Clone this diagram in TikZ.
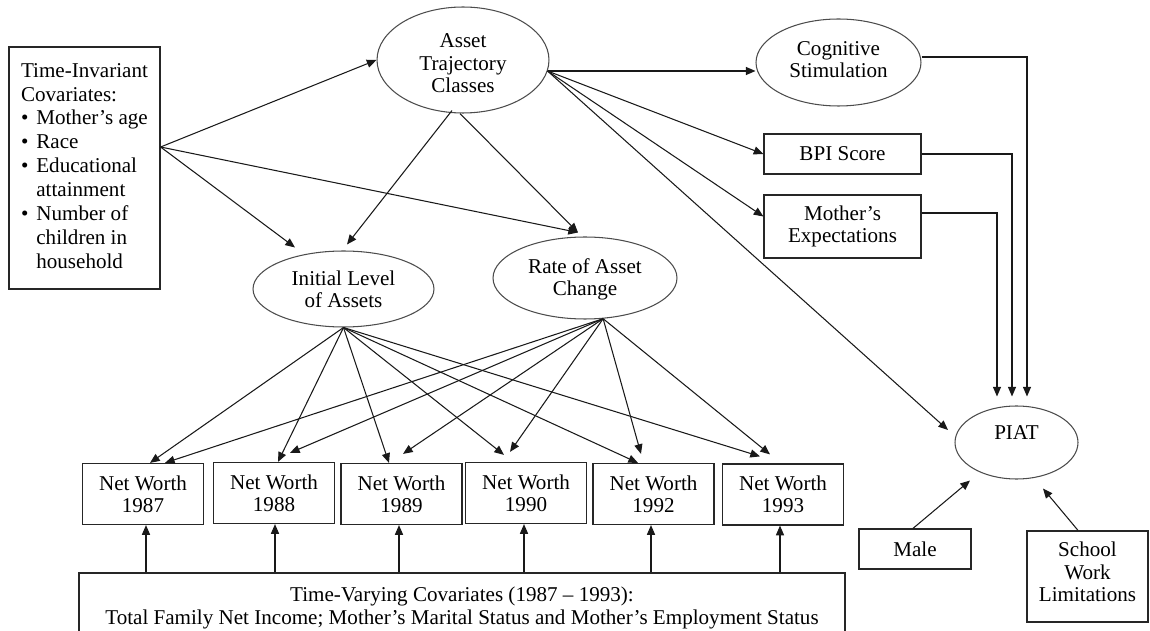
\documentclass[tikz,border=0pt]{standalone}
\usepackage{fontspec}
\setmainfont{Liberation Serif}
\usetikzlibrary{arrows.meta,calc,shapes.geometric}
\begin{document}
\begin{tikzpicture}[x=0.02cm,y=-0.02cm,
  font=\fontsize{12}{13}\selectfont,
  arr/.style={-{Triangle[length=5.5pt,width=4.6pt]},line width=0.6pt,draw=black!90},
  oval/.style={ellipse,draw=black!70,line width=0.6pt,inner sep=0pt,align=center},
  rbox/.style={rectangle,draw=black!85,line width=0.7pt,inner sep=0pt,align=center},
  nwbox/.style={rbox,minimum width=2.42cm,minimum height=1.22cm,font=\fontsize{12}{12.5}\selectfont},
]
\useasboundingbox (0,0) rectangle (1150,631);

% time-invariant covariates
\node[rbox,minimum width=3.02cm,minimum height=4.84cm,font=\fontsize{12}{13.6}\selectfont] (tic) at (84.5,168) {%
  \begin{tabular}{@{}l@{\hspace{4.5pt}}l@{}}
  \multicolumn{2}{@{}l@{}}{Time-Invariant}\\
  \multicolumn{2}{@{}l@{}}{Covariates:}\\
  \textbullet & Mother’s age\\
  \textbullet & Race\\
  \textbullet & Educational\\
              & attainment\\
  \textbullet & Number of\\
              & children in\\
              & household
  \end{tabular}};

% latent variables (text boxes sized so the lines sit as in the layout)
\node[oval,minimum width=3.44cm,minimum height=2.12cm,text height=37.4pt,text depth=0pt] (atc) at (463,60) {Asset\\Trajectory\\Classes};
\node[oval,minimum width=3.3cm,minimum height=1.74cm,text height=17.6pt,text depth=0pt] (cog) at (838.5,62.5) {Cognitive\\Stimulation};
\node[oval,minimum width=3.62cm,minimum height=1.52cm,text height=21.5pt,text depth=0pt] (ini) at (343.5,289) {Initial Level\\of Assets};
\node[oval,minimum width=3.68cm,minimum height=1.64cm,text height=20.4pt,text depth=0pt] (rate) at (585,278) {Rate of Asset\\Change};
\node[oval,minimum width=2.46cm,minimum height=1.46cm,text depth=11pt] (piat) at (1016.5,442.5) {PIAT};

% mediators and controls
\node[rbox,minimum width=3.14cm,minimum height=0.8cm] (bpi) at (842.5,154) {BPI Score};
\node[rbox,minimum width=3.14cm,minimum height=1.26cm] (me) at (842.5,226.5) {Mother’s\\Expectations};
\node[rbox,minimum width=2.24cm,minimum height=0.8cm] (male) at (915,549) {Male};
\node[rbox,minimum width=2.42cm,minimum height=1.82cm,text height=29pt,text depth=0pt] (swl) at (1087.5,576.5) {School\\Work\\Limitations};

% observed net worth
\node[nwbox] (nw87) at (143,494) {Net Worth\\1987};
\node[nwbox] (nw88) at (274,493) {Net Worth\\1988};
\node[nwbox] (nw89) at (401.5,494) {Net Worth\\1989};
\node[nwbox] (nw90) at (526,493) {Net Worth\\1990};
\node[nwbox] (nw92) at (653.5,494) {Net Worth\\1992};
\node[nwbox] (nw93) at (783,494.5) {Net Worth\\1993};

% time-varying covariates
\node[rbox,minimum width=15.32cm,minimum height=1.4cm] (tv) at (462,608) {Time-Varying Covariates (1987 – 1993):\\Total Family Net Income; Mother’s Marital Status and Mother’s Employment Status};

% paths from the time-invariant covariates
\coordinate (ticR) at ($(tic.east)+(0,-21)$);
\coordinate (rateIn) at ($(rate.north)+(-7,-4)$);
\draw[arr] (ticR) -- (atc.west);
\draw[arr] (ticR) -- ($(ini.north)+(-48.5,-3)$);
\draw[arr] (ticR) -- (rateIn);

% paths from the trajectory classes
\draw[arr] ($(atc.south)+(-11,-3)$) -- ($(ini.north)+(3.5,-6)$);
\draw[arr] ($(atc.south)+(-3,0)$) -- (rateIn);
\coordinate (atcR) at ($(atc.east)+(-2,11)$);
\draw[arr] (atcR) -- (atcR -| cog.west);
\draw[arr] (atcR) -- (bpi.west);
\draw[arr] (atcR) -- ($(me.west)+(0,-10)$);
\draw[arr] (atcR) -- ($(piat.center)+(-68.5,-12.5)$);

% mediators into PIAT
\draw[arr] ($(cog.east)+(0,-5.5)$) -| ($(piat.north)+(10.5,-9)$);
\draw[arr] (bpi.east) -| ($(piat.north)+(-4.5,-9)$);
\draw[arr] ($(me.east)+(0,-13.5)$) -| ($(piat.north)+(-19.5,-9)$);
\draw[arr] ($(male.north)+(-2,0)$) -- ($(piat.south)+(-46.5,1)$);
\draw[arr] ($(swl.north)+(-9.5,0)$) -- ($(piat.south)+(26.5,9)$);

% growth factor loadings
\foreach \n/\dx/\dy in {nw87/7/0, nw88/4/0, nw89/-12.5/0, nw90/-22/-7, nw92/-15.5/0, nw93/-23/-7}
  \draw[arr] (ini.south) -- ($(\n.north)+(\dx,\dy)$);
\foreach \n/\dx/\dy in {nw87/22/0, nw88/16/-9, nw89/1.5/-9, nw90/-16/-10, nw92/-12.5/-9, nw93/-13/-9}
  \draw[arr] (rate.-66) -- ($(\n.north)+(\dx,\dy)$);

% time-varying covariates into each wave
\foreach \n/\dx in {nw87/3, nw88/1, nw89/-2.5, nw90/-2, nw92/-2.5, nw93/-3}{
  \coordinate (tip) at ($(\n.south)+(\dx,0)$);
  \draw[arr] (tip |- tv.north) -- (tip);
}
\end{tikzpicture}
\end{document}
